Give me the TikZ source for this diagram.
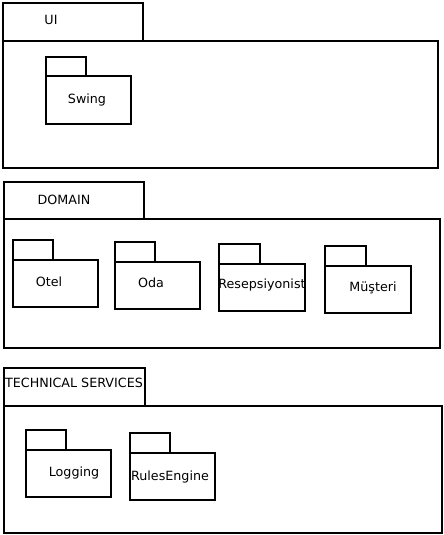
\documentclass[tikz,border=0pt]{standalone}
\usepackage{fontspec}
\setmainfont{DejaVu Sans}
\begin{document}
\begin{tikzpicture}[x=1pt,y=-1pt,
  pline/.style={draw=black,line width=1.9pt},
  lbl/.style={anchor=base,inner sep=0pt,font=\fontsize{12.7pt}{15pt}\selectfont}]
\useasboundingbox[fill=white] (0,0) rectangle (444,535);
% UI
\draw[pline] (3,41) -- (3,3) -- (143,3) -- (143,41);
\draw[pline] (3,41) rectangle (438,168);
\node[lbl] (ui) at (51,25) {UI};
\draw[pline] (46,76) -- (46,57) -- (86,57) -- (86,76);
\draw[pline] (46,76) rectangle (131,124);
\node[lbl] (swing) at (87,103) {Swing};
% DOMAIN
\draw[pline] (4,219) -- (4,182) -- (144,182) -- (144,219);
\draw[pline] (4,219) rectangle (440,348);
\node[lbl] (domain) at (64,204) {DOMAIN};
\draw[pline] (13,260) -- (13,240) -- (53,240) -- (53,260);
\draw[pline] (13,260) rectangle (98,307);
\node[lbl] (otel) at (49,286) {Otel};
\draw[pline] (115,262) -- (115,242) -- (155,242) -- (155,262);
\draw[pline] (115,262) rectangle (200,309);
\node[lbl] (oda) at (151,287) {Oda};
\draw[pline] (219,264) -- (219,244) -- (260,244) -- (260,264);
\draw[pline] (219,264) rectangle (305,311);
\node[lbl] (resep) at (262,288) {Resepsiyonist};
\draw[pline] (325,266) -- (325,246) -- (366,246) -- (366,266);
\draw[pline] (325,266) rectangle (411,313);
\node[lbl] (musteri) at (373,291) {Müşteri};
% TECHNICAL SERVICES
\draw[pline] (4,406) -- (4,368) -- (145,368) -- (145,406);
\draw[pline] (4,406) rectangle (442,533);
\node[lbl] (tech) at (74,387) {TECHNICAL SERVICES};
\draw[pline] (26,450) -- (26,430) -- (66,430) -- (66,450);
\draw[pline] (26,450) rectangle (111,497);
\node[lbl] (logging) at (74,476) {Logging};
\draw[pline] (130,453) -- (130,433) -- (170,433) -- (170,453);
\draw[pline] (130,453) rectangle (215,500);
\node[lbl] (rules) at (170,480) {RulesEngine};
\end{tikzpicture}
\end{document}
